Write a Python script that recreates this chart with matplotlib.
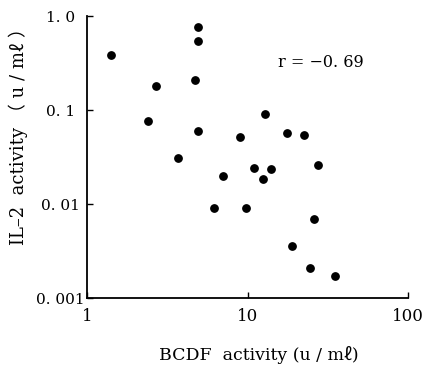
import matplotlib
matplotlib.use("Agg")
import matplotlib.pyplot as plt

# BCDF activity (u/ml) vs IL-2 activity (u/ml)
bcdf = [1.4, 4.9, 4.9, 2.7, 4.7, 2.4, 4.9, 3.7, 12.9, 9.0, 17.6, 22.4,
        27.6, 7.0, 11.0, 14.0, 12.5, 6.2, 9.8, 25.9, 18.8, 24.4, 34.8]
il2 = [0.39, 0.77, 0.55, 0.18, 0.21, 0.077, 0.060, 0.031, 0.091, 0.052, 0.057, 0.054,
       0.026, 0.020, 0.0244, 0.0237, 0.0183, 0.0092, 0.0092, 0.0070, 0.0036, 0.0021, 0.00174]

xticks = [1, 10, 100]
xticklabels = ["1", "10", "100"]
yticks = [0.001, 0.01, 0.1, 1.0]
yticklabels = ["0. 001", "0. 01", "0. 1", "1. 0"]

plt.rcParams['font.family'] = ['DejaVu Serif', 'Noto Sans CJK JP']

fig = plt.figure(figsize=(4.23, 3.75), dpi=100)
ax = fig.add_axes([0.206, 0.205, 0.759, 0.752])
ax.scatter(bcdf, il2, s=28, color='black', zorder=3)
ax.set_xscale('log')
ax.set_yscale('log')
ax.set_xlim(1, 100)
ax.set_ylim(0.001, 1.0)
ax.minorticks_off()
ax.set_xticks(xticks)
ax.set_xticklabels(xticklabels, fontsize=12)
ax.set_yticks(yticks)
ax.set_yticklabels(yticklabels, fontsize=11, ha='center')
ax.tick_params(direction='in', length=4, width=1)
ax.tick_params(axis='y', pad=19)
ax.tick_params(axis='x', pad=7)
for s in ['top', 'right']:
    ax.spines[s].set_visible(False)
for s in ['left', 'bottom']:
    ax.spines[s].set_linewidth(1.3)

ax.text(0.595, 0.837, "r = \u22120. 69", transform=ax.transAxes, ha='left', va='center', fontsize=11.5)
ax.set_xlabel("BCDF  activity (u / m\u2113)", fontsize=12.5, va='center')
ax.xaxis.set_label_coords(0.536, -0.202)
ax.set_ylabel("IL\u20132  activity （ u / m\u2113 ）", fontsize=13, va='center')
ax.yaxis.set_label_coords(-0.215, 0.59)

fig.savefig("out.png", dpi=100)
